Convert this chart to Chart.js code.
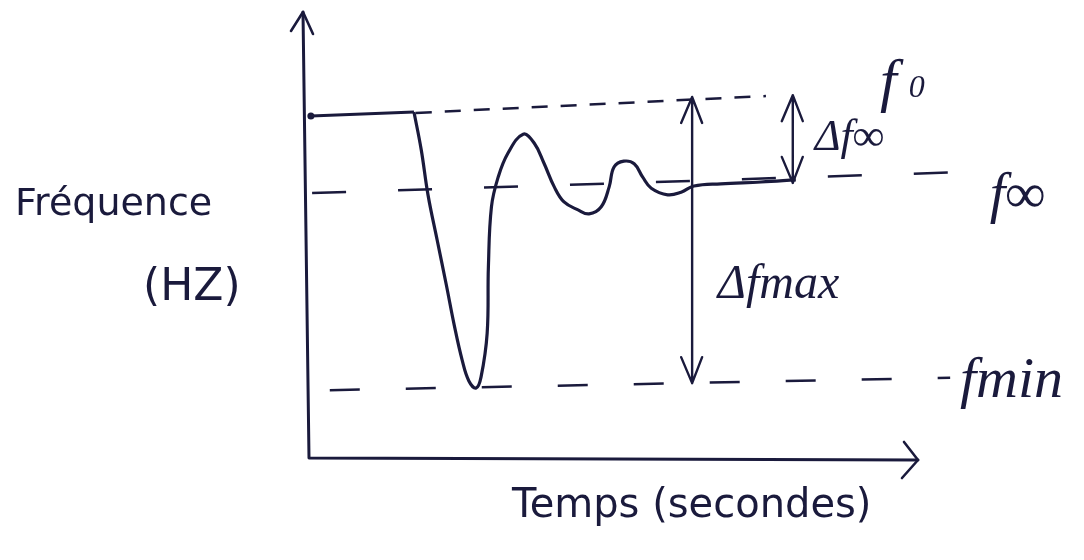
<!DOCTYPE html>
<html><head><meta charset="utf-8">
<script src="https://cdn.jsdelivr.net/npm/chart.js@4.4.1/dist/chart.umd.min.js"></script>
<style>html,body{margin:0;padding:0;background:#fff}#wrap{width:1084px;height:560px;position:relative}</style>
</head><body><div id="wrap"><canvas id="c"></canvas></div>
<script>
// ---- data (time in arbitrary seconds units, frequency in arbitrary Hz units) ----
const preTimeS  = [0.8, 17.7];
const preFreqHz = [77.2, 78.1];
const timeS  = [17.7, 18.9, 20.0, 21.5, 23.0, 24.3, 25.6, 26.7, 27.9, 28.7, 29.7, 29.9, 30.4, 31.5, 33.1, 35.6, 37.4, 39.0, 40.7, 42.3, 44.6, 46.4, 48.4, 49.7, 50.5, 52.1, 53.8, 55.2, 56.6, 59.3, 61.5, 63.6, 68.0, 74.6, 80.3];
const freqHz = [78.1, 69.5, 59.4, 49.2, 39.1, 30.0, 22.1, 17.4, 15.8, 18.3, 28.2, 43.1, 56.7, 63.4, 68.8, 73.1, 71.1, 66.6, 61.2, 57.8, 56.0, 55.1, 56.7, 61.2, 65.7, 67.0, 66.4, 63.4, 60.9, 59.4, 60.0, 61.4, 61.9, 62.3, 62.8];

const f0X   = [18.0, 75.4];   const f0Y   = [77.9, 81.7];
const fInfX = [1.0, 108.9];   const fInfY = [59.8, 64.6];
const fMinX = [3.9, 105.6];   const fMinY = [15.3, 18.1];

const arrowNames  = ['Δfmax', 'Δf∞'];
const arrowX      = [63.3, 79.8];
const arrowTop    = [81.5, 81.9];
const arrowBottom = [16.9, 62.1];

const axisTitleY = ['Fréquence', '(HZ)'];
const axisTitleX = 'Temps (secondes)';

const INK = '#1a1a3c';
const pts = (xs, ys) => xs.map((x, i) => ({x, y: ys[i]}));

const sketchPlugin = {
  id: 'sketch',
  afterDatasetsDraw(chart) {
    const {ctx, chartArea: a, scales: {x, y}} = chart;
    const X = v => x.getPixelForValue(v), Y = v => y.getPixelForValue(v);
    ctx.save();
    ctx.strokeStyle = INK; ctx.fillStyle = INK;
    ctx.lineCap = 'round'; ctx.lineJoin = 'round';
    // axes
    ctx.lineWidth = 3;
    ctx.beginPath();
    ctx.moveTo(a.left - 3, a.top - 3); ctx.lineTo(a.left + 3, a.bottom);
    ctx.lineTo(a.right + 2, a.bottom + 2);
    ctx.stroke();
    ctx.lineWidth = 2.6;
    ctx.beginPath();
    ctx.moveTo(a.left - 15, a.top + 16); ctx.lineTo(a.left - 3, a.top - 3); ctx.lineTo(a.left + 7, a.top + 19);
    ctx.moveTo(a.right - 12, a.bottom - 16); ctx.lineTo(a.right + 2, a.bottom + 2); ctx.lineTo(a.right - 14, a.bottom + 20);
    ctx.stroke();
    // double arrows
    ctx.lineWidth = 2.4;
    arrowX.forEach((xv, i) => {
      const px = X(xv), t = Y(arrowTop[i]), b = Y(arrowBottom[i]);
      ctx.beginPath();
      ctx.moveTo(px, t); ctx.lineTo(px, b);
      ctx.moveTo(px - 11, t + 26); ctx.lineTo(px, t); ctx.lineTo(px + 10, t + 26);
      ctx.moveTo(px - 11, b - 26); ctx.lineTo(px, b); ctx.lineTo(px + 10, b - 26);
      ctx.stroke();
    });
    // annotation labels
    ctx.textBaseline = 'alphabetic'; ctx.textAlign = 'left';
    const serif = s => `italic ${s}px "Liberation Serif", "DejaVu Serif", serif`;
    ctx.font = serif(60); ctx.fillText('f', X(94.1), Y(80.8));
    ctx.font = serif(32); ctx.fillText('0', X(98.8), Y(81.6));
    ctx.font = serif(44); ctx.fillText(arrowNames[1], X(83.4), Y(69.5));
    ctx.font = serif(56); ctx.fillText('f∞', X(112.1), Y(55.5));
    ctx.font = serif(48); ctx.fillText(arrowNames[0], X(67.5), Y(36.1));
    ctx.font = serif(58); ctx.fillText('fmin', X(107.2), Y(13.8));
    // axis titles
    ctx.font = '38px "DejaVu Sans", sans-serif';
    ctx.fillText(axisTitleY[0], a.left - 291, a.top + 200);
    ctx.font = '44px "DejaVu Sans", sans-serif';
    ctx.fillText(axisTitleY[1], a.left - 163, a.top + 285);
    ctx.font = '40px "DejaVu Sans", sans-serif';
    ctx.fillText(axisTitleX, a.left + 206, a.bottom + 59);
    ctx.restore();
  }
};

new Chart(document.getElementById('c'), {
  type: 'line',
  data: {
    datasets: [
      { data: pts(preTimeS, preFreqHz), borderColor: INK, borderWidth: 3.2, tension: 0,
        pointRadius: [3.5, 0], pointBackgroundColor: INK, pointBorderWidth: 0, clip: false },
      { data: pts(timeS, freqHz), borderColor: INK, borderWidth: 3.2, tension: 0.4,
        pointRadius: 0, clip: false },
      { data: pts(f0X, f0Y), borderColor: INK, borderWidth: 2.5, borderDash: [16, 13], pointRadius: 0, clip: false },
      { data: pts(fInfX, fInfY), borderColor: INK, borderWidth: 2.5, borderDash: [34, 52], pointRadius: 0, clip: false },
      { data: pts(fMinX, fMinY), borderColor: INK, borderWidth: 2.5, borderDash: [30, 46], pointRadius: 0, clip: false }
    ]
  },
  options: {
    responsive: true, maintainAspectRatio: false, animation: false,
    layout: { padding: { left: 306, right: 168, top: 15, bottom: 102 } },
    plugins: { legend: { display: false }, tooltip: { enabled: false } },
    scales: {
      x: { type: 'linear', display: false, min: 0, max: 100 },
      y: { type: 'linear', display: false, min: 0, max: 100 }
    }
  },
  plugins: [sketchPlugin]
});
</script></body></html>
